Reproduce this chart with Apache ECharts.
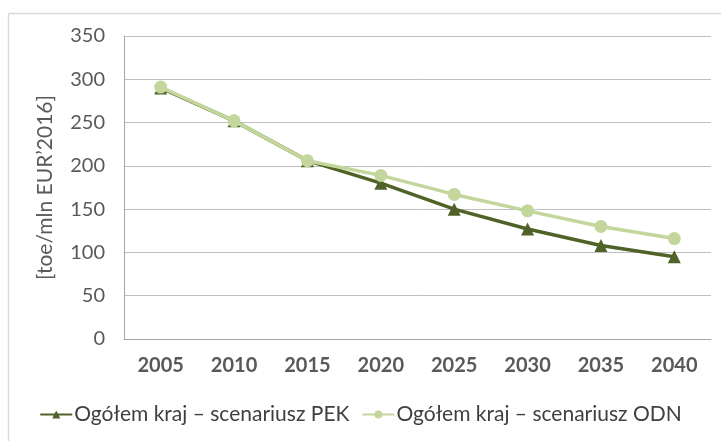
<!DOCTYPE html>
<html><head><meta charset="utf-8">
<script src="https://cdn.jsdelivr.net/npm/echarts@6/dist/echarts.min.js"></script>
<style>html,body{margin:0;padding:0;background:#fff}#c{width:721px;height:441px}</style>
</head><body><div id="c"></div>
<script>
const years = ['2005','2010','2015','2020','2025','2030','2035','2040'];
const pek = [290, 252, 206, 180, 150, 127, 108, 95];
const odn = [291, 252, 206, 189, 167, 148, 130, 116];
const namePEK = 'Ogółem kraj – scenariusz PEK';
const nameODN = 'Ogółem kraj – scenariusz ODN';
const FONT = 'Lato';
const chart = echarts.init(document.getElementById('c'));
chart.setOption({
  animation: false,
  backgroundColor: '#fff',
  graphic: [
    {type:'line', shape:{x1:8.5,y1:13.5,x2:721,y2:13.5}, style:{stroke:'#d9d9d9',lineWidth:1.5}},
    {type:'line', shape:{x1:8.5,y1:13.5,x2:8.5,y2:441}, style:{stroke:'#d9d9d9',lineWidth:1.5}}
  ],
  grid: {left: 124, right: 10, top: 36, bottom: 102},
  legend: {
    bottom: 11, left: 'center', itemGap: 12, itemWidth: 32, itemHeight: 10,
    textStyle: {fontFamily: FONT, fontSize: 21, color: '#404040', padding: [0,0,0,-3]},
    data: [namePEK, nameODN]
  },
  xAxis: {
    type: 'category', data: years, boundaryGap: true,
    axisLine: {lineStyle: {color: '#a6a6a6'}},
    axisTick: {show: false},
    axisLabel: {fontFamily: FONT, fontSize: 20, fontWeight: 'bold', color: '#595959', margin: 17}
  },
  yAxis: {
    type: 'value', min: 0, max: 350, interval: 50,
    name: '[toe/mln EUR’2016]', nameLocation: 'middle', nameGap: 68, nameRotate: 90,
    nameTextStyle: {fontFamily: FONT, fontSize: 21, color: '#595959'},
    axisLine: {show: true, lineStyle: {color: '#a6a6a6'}},
    axisTick: {show: false},
    splitLine: {lineStyle: {color: '#bfbfbf', width: 1}},
    axisLabel: {fontFamily: FONT, fontSize: 20, color: '#595959', margin: 19}
  },
  series: [
    {name: namePEK, type: 'line', data: pek, symbol: 'triangle', symbolSize: 13,
     lineStyle: {color: '#4f6228', width: 3.5}, itemStyle: {color: '#4f6228'}, z: 2},
    {name: nameODN, type: 'line', data: odn, symbol: 'circle', symbolSize: 13,
     lineStyle: {color: '#c3d69b', width: 3.5}, itemStyle: {color: '#c3d69b'}, z: 3}
  ]
});
</script></body></html>
